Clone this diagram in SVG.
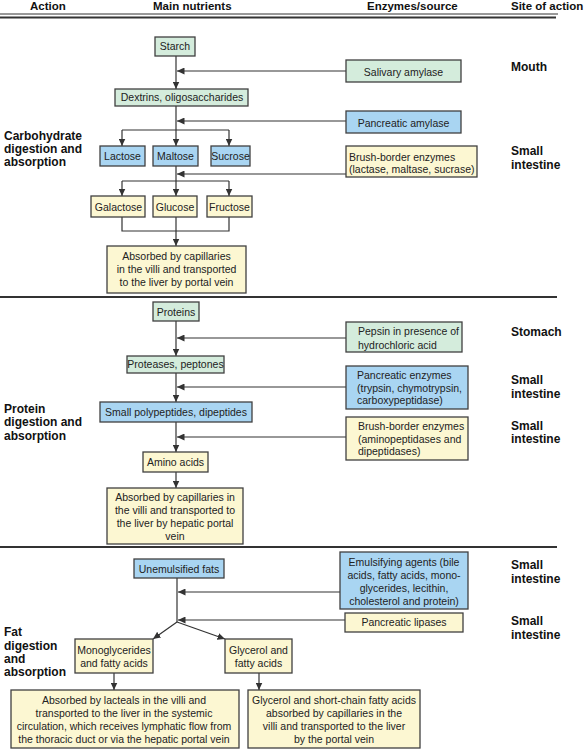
<svg xmlns="http://www.w3.org/2000/svg" width="584" height="750" viewBox="0 0 584 750">
<defs>
<marker id="ah" markerUnits="userSpaceOnUse" markerWidth="8" markerHeight="7" refX="7.5" refY="3.5" orient="auto">
<path d="M0,0 L7.5,3.5 L0,7 z" fill="#333"/>
</marker>
<style>
.g{fill:#d4ecdc;stroke:#404040;stroke-width:1.3}
.b{fill:#a9d5f2;stroke:#404040;stroke-width:1.3}
.y{fill:#fcf7d2;stroke:#404040;stroke-width:1.3}
.t{font-family:"Liberation Sans",Arial,sans-serif;font-size:10.5px;fill:#222}
.c{text-anchor:middle}
.h{font-family:"Liberation Sans",Arial,sans-serif;font-size:11.5px;font-weight:bold;fill:#111}
.l{font-family:"Liberation Sans",Arial,sans-serif;font-size:12px;font-weight:bold;fill:#111}
.ln{stroke:#333;stroke-width:1.2;fill:none}
.a{stroke:#333;stroke-width:1.2;fill:none;marker-end:url(#ah)}
.div{stroke:#333;stroke-width:2}
</style>
</defs>
<rect width="584" height="750" fill="#fff"/>
<g id="header">
<text class="h" x="30" y="10">Action</text>
<text class="h" x="153" y="10">Main nutrients</text>
<text class="h" x="367" y="10">Enzymes/source</text>
<text class="h" x="511" y="10">Site of action</text>
<line x1="0" y1="14" x2="558" y2="14" stroke="#333" stroke-width="1"/>
<line x1="0" y1="17.5" x2="556" y2="17.5" stroke="#333" stroke-width="2"/>
<line class="div" x1="0" y1="297" x2="557" y2="297"/>
<line class="div" x1="0" y1="547" x2="557" y2="547"/>
</g>
<g id="labels">
<text class="l" x="4" y="140.3">Carbohydrate</text>
<text class="l" x="4" y="153.3">digestion and</text>
<text class="l" x="4" y="166.3">absorption</text>
<text class="l" x="4" y="413">Protein</text>
<text class="l" x="4" y="426">digestion and</text>
<text class="l" x="4" y="440">absorption</text>
<text class="l" x="4" y="636">Fat</text>
<text class="l" x="4" y="650">digestion</text>
<text class="l" x="4" y="663">and</text>
<text class="l" x="4" y="676">absorption</text>
<text class="l" x="511" y="71">Mouth</text>
<text class="l" x="511" y="155">Small</text>
<text class="l" x="511" y="169">intestine</text>
<text class="l" x="511" y="336">Stomach</text>
<text class="l" x="511" y="384">Small</text>
<text class="l" x="511" y="398">intestine</text>
<text class="l" x="511" y="430">Small</text>
<text class="l" x="511" y="443">intestine</text>
<text class="l" x="511" y="569">Small</text>
<text class="l" x="511" y="583">intestine</text>
<text class="l" x="511" y="625">Small</text>
<text class="l" x="511" y="639">intestine</text>
</g>
<g id="connectors">
<!-- carbohydrate -->
<line class="a" x1="176" y1="56" x2="176" y2="89"/>
<line class="a" x1="346" y1="71" x2="177" y2="71"/>
<line class="ln" x1="176" y1="106" x2="176" y2="130"/>
<line class="a" x1="346" y1="121" x2="177" y2="121"/>
<line class="ln" x1="122" y1="130" x2="229" y2="130"/>
<line class="a" x1="122" y1="130" x2="122" y2="146"/>
<line class="a" x1="176" y1="130" x2="176" y2="146"/>
<line class="a" x1="229" y1="130" x2="229" y2="146"/>
<line class="ln" x1="176" y1="166" x2="176" y2="181"/>
<line class="a" x1="346" y1="174" x2="177" y2="174"/>
<line class="ln" x1="122" y1="181" x2="229" y2="181"/>
<line class="a" x1="122" y1="181" x2="122" y2="196"/>
<line class="a" x1="176" y1="181" x2="176" y2="196"/>
<line class="a" x1="229" y1="181" x2="229" y2="196"/>
<polyline class="ln" points="122,217 122,231 229,231 229,217"/>
<line class="a" x1="176" y1="217" x2="176" y2="246"/>
<!-- protein -->
<line class="a" x1="176" y1="321" x2="176" y2="356"/>
<line class="a" x1="346" y1="338" x2="177" y2="338"/>
<line class="a" x1="176" y1="373" x2="176" y2="402"/>
<line class="a" x1="346" y1="387" x2="177" y2="387"/>
<line class="a" x1="176" y1="422" x2="176" y2="452"/>
<line class="a" x1="346" y1="437" x2="177" y2="437"/>
<line class="a" x1="176" y1="472" x2="176" y2="488"/>
<!-- fat -->
<line class="ln" x1="177" y1="578" x2="177" y2="622"/>
<line class="a" x1="340" y1="592" x2="178" y2="592"/>
<line class="a" x1="345" y1="620" x2="178" y2="620"/>
<line class="a" x1="177" y1="622" x2="153" y2="639"/>
<line class="a" x1="177" y1="622" x2="225" y2="639"/>
<line class="a" x1="114" y1="673" x2="114" y2="690"/>
<line class="a" x1="259" y1="673" x2="259" y2="690"/>
</g>
<g id="n-starch"><rect class="g" x="155" y="37" width="40" height="19"/><text class="t c" x="175" y="50">Starch</text></g>
<g id="n-salivary"><rect class="g" x="346" y="60" width="115" height="22"/><text class="t c" x="403.5" y="75.5">Salivary amylase</text></g>
<g id="n-dextrins"><rect class="g" x="115" y="89" width="133" height="17"/><text class="t c" x="182" y="101.3">Dextrins, oligosaccharides</text></g>
<g id="n-pancamylase"><rect class="b" x="346" y="111" width="115" height="22"/><text class="t c" x="403.5" y="126.5">Pancreatic amylase</text></g>
<g id="n-lactose"><rect class="b" x="100" y="146" width="45" height="20"/><text class="t c" x="122.5" y="160">Lactose</text></g>
<g id="n-maltose"><rect class="b" x="153" y="146" width="45" height="20"/><text class="t c" x="175.5" y="160">Maltose</text></g>
<g id="n-sucrose"><rect class="b" x="211" y="146" width="39" height="20"/><text class="t c" x="230.5" y="160">Sucrose</text></g>
<g id="n-brush1"><rect class="y" x="346" y="146" width="131" height="31"/><text class="t" x="349" y="161">Brush-border enzymes</text><text class="t" x="349" y="173">(lactase, maltase, sucrase)</text></g>
<g id="n-galactose"><rect class="y" x="91" y="196" width="54" height="21"/><text class="t c" x="118.5" y="210.8">Galactose</text></g>
<g id="n-glucose"><rect class="y" x="153" y="196" width="44" height="21"/><text class="t c" x="175" y="210.8">Glucose</text></g>
<g id="n-fructose"><rect class="y" x="207" y="196" width="45" height="21"/><text class="t c" x="229.5" y="210.8">Fructose</text></g>
<g id="n-absorb1"><rect class="y" x="107" y="246" width="139" height="47"/><text class="t c" x="176.5" y="260">Absorbed by capillaries</text><text class="t c" x="176.5" y="273">in the villi and transported</text><text class="t c" x="176.5" y="286">to the liver by portal vein</text></g>
<g id="n-proteins"><rect class="g" x="153" y="302" width="46" height="19"/><text class="t c" x="176" y="315.5">Proteins</text></g>
<g id="n-pepsin"><rect class="g" x="346" y="322" width="116" height="30"/><text class="t" x="358" y="335">Pepsin in presence of</text><text class="t" x="358" y="349">hydrochloric acid</text></g>
<g id="n-proteases"><rect class="g" x="127" y="356" width="97" height="17"/><text class="t c" x="175.5" y="368.3">Proteases, peptones</text></g>
<g id="n-pancenz"><rect class="b" x="346" y="366" width="122" height="43"/><text class="t" x="357" y="379">Pancreatic enzymes</text><text class="t" x="357" y="391.5">(trypsin, chymotrypsin,</text><text class="t" x="357" y="404">carboxypeptidase)</text></g>
<g id="n-polypep"><rect class="b" x="100" y="402" width="152" height="20"/><text class="t c" x="176" y="416">Small polypeptides, dipeptides</text></g>
<g id="n-brush2"><rect class="y" x="346" y="417" width="122" height="43"/><text class="t" x="358" y="430">Brush-border enzymes</text><text class="t" x="358" y="442.5">(aminopeptidases and</text><text class="t" x="358" y="455">dipeptidases)</text></g>
<g id="n-amino"><rect class="y" x="143" y="452" width="65" height="20"/><text class="t c" x="175.5" y="466">Amino acids</text></g>
<g id="n-absorb2"><rect class="y" x="107" y="488" width="136" height="56"/><text class="t c" x="175" y="501">Absorbed by capillaries in</text><text class="t c" x="175" y="514">the villi and transported to</text><text class="t c" x="175" y="527">the liver by hepatic portal</text><text class="t c" x="175" y="540">vein</text></g>
<g id="n-unemuls"><rect class="b" x="134" y="559" width="90" height="19"/><text class="t c" x="179" y="572.8">Unemulsified fats</text></g>
<g id="n-emuls"><rect class="b" x="340" y="552" width="128" height="57"/><text class="t c" x="404" y="566">Emulsifying agents (bile</text><text class="t c" x="404" y="579">acids, fatty acids, mono-</text><text class="t c" x="404" y="592">glycerides, lecithin,</text><text class="t c" x="404" y="605">cholesterol and protein)</text></g>
<g id="n-lipases"><rect class="y" x="345" y="613" width="118" height="19"/><text class="t c" x="404" y="626.3">Pancreatic lipases</text></g>
<g id="n-mono"><rect class="y" x="75" y="639" width="78" height="34"/><text class="t c" x="114" y="654">Monoglycerides</text><text class="t c" x="114" y="667">and fatty acids</text></g>
<g id="n-glycerol"><rect class="y" x="225" y="639" width="67" height="34"/><text class="t c" x="258.5" y="654">Glycerol and</text><text class="t c" x="258.5" y="667">fatty acids</text></g>
<g id="n-lacteals"><rect class="y" x="11" y="690" width="228" height="58"/><text class="t c" x="124" y="704">Absorbed by lacteals in the villi and</text><text class="t c" x="124" y="717">transported to the liver in the systemic</text><text class="t c" x="124" y="730">circulation, which receives lymphatic flow from</text><text class="t c" x="124" y="743">the thoracic duct or via the hepatic portal vein</text></g>
<g id="n-shortchain"><rect class="y" x="248" y="690" width="172" height="58"/><text class="t c" x="334" y="704">Glycerol and short-chain fatty acids</text><text class="t c" x="334" y="717">absorbed by capillaries in the</text><text class="t c" x="334" y="730">villi and transported to the liver</text><text class="t c" x="334" y="743">by the portal vein</text></g>
</svg>
